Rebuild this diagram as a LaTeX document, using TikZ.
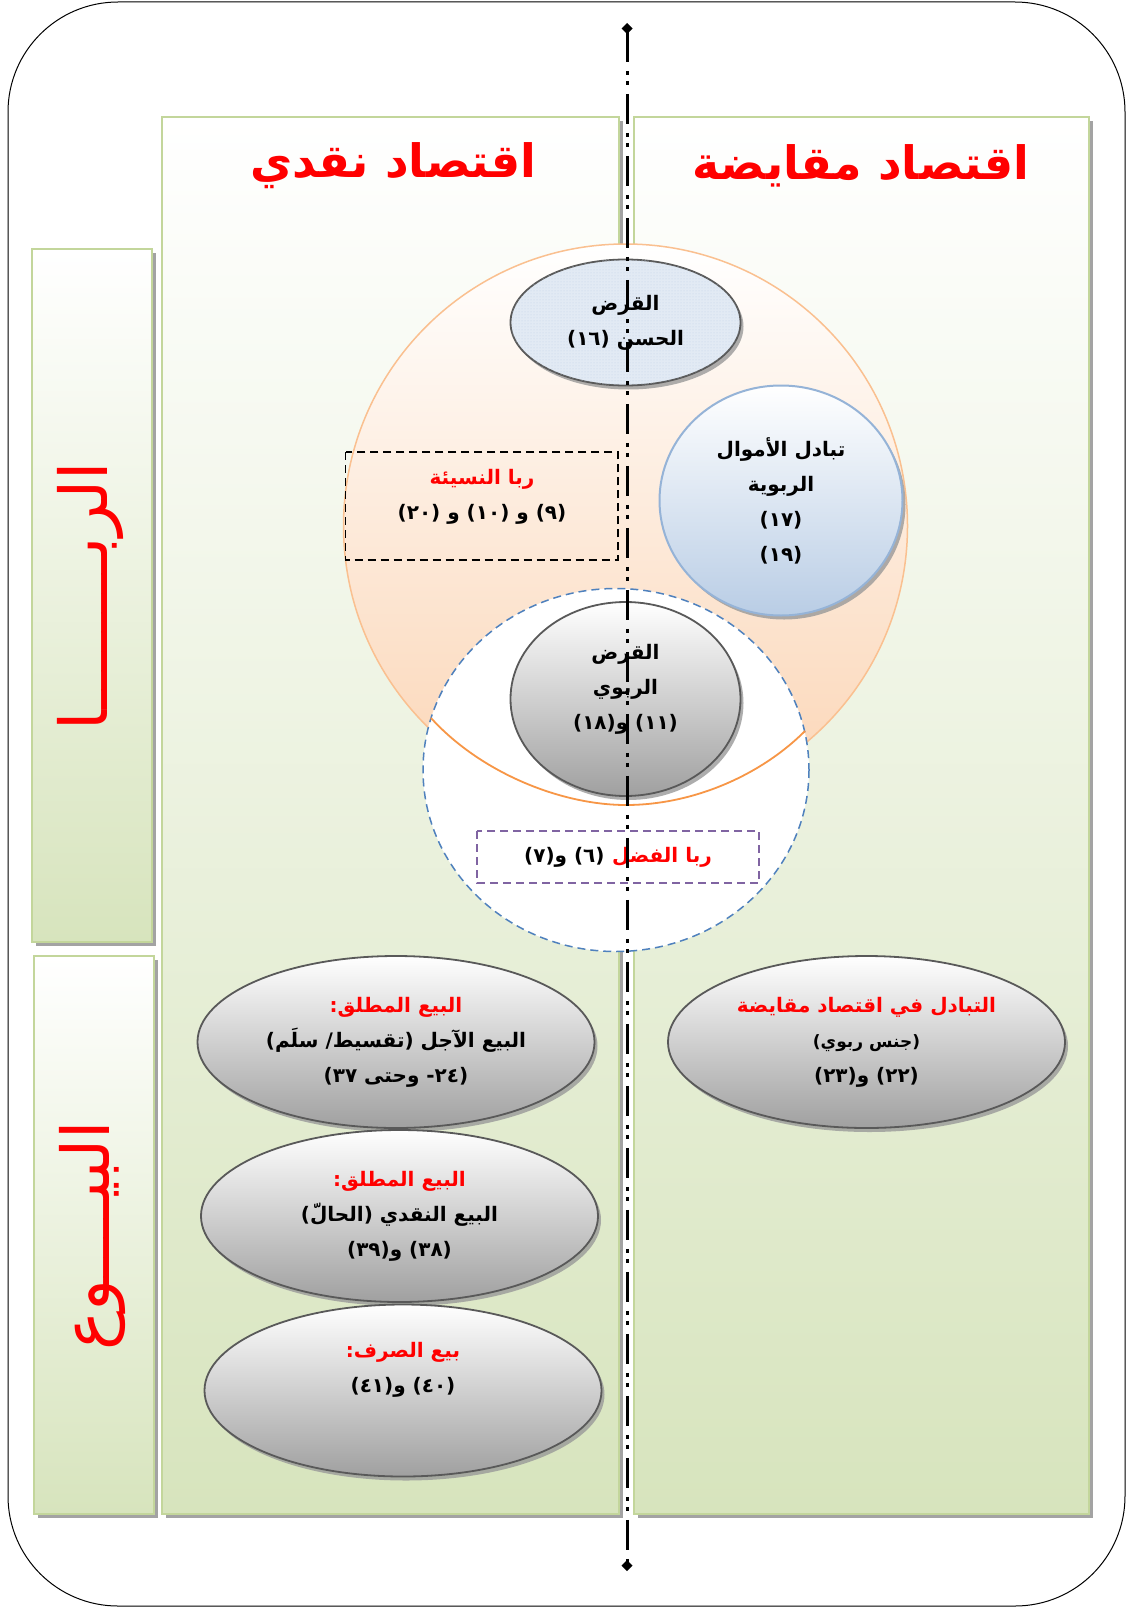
\documentclass[tikz,border=0pt]{standalone}
\usepackage{fontspec}
\usetikzlibrary{shapes.geometric,shadows,patterns,arrows.meta}
\newfontfamily\arabicfont[Script=Arabic]{DejaVu Sans}
\TeXXeTstate=1
\newcommand{\artxt}[1]{{\arabicfont\beginR #1\endR}}
\definecolor{panelgreen}{RGB}{215,228,189}
\definecolor{panelline}{RGB}{195,214,155}
\definecolor{peach}{RGB}{251,213,181}
\definecolor{peachline}{RGB}{250,192,144}
\definecolor{orangeline}{RGB}{247,150,70}
\definecolor{skyblue}{RGB}{185,205,229}
\definecolor{skyline}{RGB}{149,179,215}
\definecolor{dashblue}{RGB}{79,129,189}
\definecolor{dashpurple}{RGB}{128,100,162}
\definecolor{dotblue}{RGB}{226,234,244}
\definecolor{ovalline}{RGB}{89,89,89}
\definecolor{ovalgray}{RGB}{160,160,160}
\tikzset{
  panel/.style={draw=panelline, line width=2pt, top color=white, bottom color=panelgreen,
    drop shadow={shadow xshift=4pt, shadow yshift=-4pt, fill=black!40, opacity=.9}},
  oval/.style={ellipse, draw=ovalline, line width=1.8pt, top color=white, bottom color=ovalgray,
    align=center, inner sep=0pt, txt,
    drop shadow={shadow xshift=3pt, shadow yshift=-4pt, fill=black!40, opacity=.8}},
  hasan/.style={ellipse, draw=ovalline, line width=1.8pt, fill=dotblue,
    postaction={pattern=dots, pattern color=dashblue!35}, align=center, inner sep=0pt, txt,
    drop shadow={shadow xshift=3pt, shadow yshift=-4pt, fill=black!40, opacity=.8}},
  exchange/.style={ellipse, draw=skyline, line width=2pt, top color=white, bottom color=skyblue,
    align=center, inner sep=0pt, txt,
    drop shadow={shadow xshift=3pt, shadow yshift=-4pt, fill=black!40, opacity=.8}},
  dashbox/.style={line width=1.5pt, dash pattern=on 8pt off 5pt},
  txt/.style={font=\fontsize{20}{35}\selectfont\bfseries},
  title/.style={text=red, font=\fontsize{46}{50}\selectfont\bfseries},
  sidetitle/.style={text=red, rotate=90, font=\fontsize{66}{70}\selectfont},
  axisline/.style={line width=3pt, dash pattern=on 30pt off 9pt on 4pt off 6pt on 4pt off 9pt,
    {Diamond[length=11pt,width=11pt]}-{Diamond[length=11pt,width=11pt]}}
}
\begin{document}
\begin{tikzpicture}[x=1pt,y=-1pt]
  \useasboundingbox (0,0) rectangle (1126,1608);
  \fill[white] (0,0) rectangle (1126,1608);
  \draw[line width=1pt, rounded corners=110pt] (8,2) rectangle (1125,1606);

  % panels
  \draw[panel] (634,117) rectangle (1089,1514);
  \draw[panel] (162,117) rectangle (619,1514);
  \draw[panel] (32,249) rectangle (152,942);
  \draw[panel] (34,956) rectangle (154,1514);

  \node[title] (titlecash) at (393,166) {\artxt{اقتصاد نقدي}};
  \node[title] (titlebarter) at (861,166) {\artxt{اقتصاد مقايضة}};

  % riba circles
  \draw[draw=peachline, line width=1.5pt, top color=white, bottom color=peach]
    (625.5,526) circle[radius=282];
  \draw[draw=dashblue, fill=white, dashbox] (616,770) circle[x radius=193, y radius=181.5];
  \draw[draw=orangeline, line width=1.8pt]
    (431,718) .. controls (480,772) and (560,805) .. (626,805)
    .. controls (692,805) and (760,776) .. (805,731);

  \node[hasan, minimum width=230pt, minimum height=126pt] (qardhasan) at (625.5,322.5)
    {\artxt{القرض}\\\artxt{الحسن (١٦)}};
  \node[exchange, minimum width=243pt, minimum height=230pt] (ribawiex) at (781,500.5)
    {\artxt{تبادل الأموال}\\\artxt{الربوية}\\\artxt{(١٧)}\\\artxt{(١٩)}};
  \node[oval, minimum width=230pt, minimum height=194pt] (qardribawi) at (625.5,699)
    {\artxt{القرض}\\\artxt{الربوي}\\\artxt{(١١) و(١٨)}\\[-22pt]\strut};

  \draw[dashbox] (345.6,452) rectangle (618,560);
  \node[txt, align=center] (nasia) at (482,496.5)
    {\textcolor{red}{\artxt{ربا النسيئة}}\\\artxt{(٩) و (١٠) و (٢٠)}};
  \draw[dashbox, draw=dashpurple] (477,831) rectangle (759,883);
  \node[txt] (fadl) at (618,857) {\artxt{(٦) و(٧)} \textcolor{red}{\artxt{ربا الفضل}}};

  % sales
  \node[oval, minimum width=397pt, minimum height=172pt] (bayajil) at (396,1042)
    {\textcolor{red}{\artxt{البيع المطلق:}}\\\artxt{البيع الآجل (تقسيط/ سلَم)}\\\artxt{(٢٤- وحتى ٣٧)}};
  \node[oval, minimum width=397pt, minimum height=172pt] (baynaqdi) at (399.5,1216)
    {\textcolor{red}{\artxt{البيع المطلق:}}\\\artxt{البيع النقدي (الحالّ)}\\\artxt{(٣٨) و(٣٩)}};
  \node[oval, minimum width=397pt, minimum height=172pt] (sarf) at (403,1390.5)
    {\textcolor{red}{\artxt{بيع الصرف:}}\\\artxt{(٤٠) و(٤١)}\\\strut};
  \node[oval, minimum width=397pt, minimum height=172pt] (tabadul) at (866.5,1042)
    {\textcolor{red}{\artxt{التبادل في اقتصاد مقايضة}}\\{\fontsize{17}{30}\selectfont\artxt{(جنس ربوي)}}\\\artxt{(٢٢) و(٢٣)}};

  \node[sidetitle] (ribalabel) at (90,596) {\artxt{الربــــــــا}};
  \node[sidetitle] (buyulabel) at (92,1236) {\artxt{البيــــوع}};

  % dividing axis
  \coordinate (axistop) at (627,23);
  \coordinate (axisbot) at (627,1571);
  \draw[axisline] (axistop) -- (axisbot);
\end{tikzpicture}
\end{document}
